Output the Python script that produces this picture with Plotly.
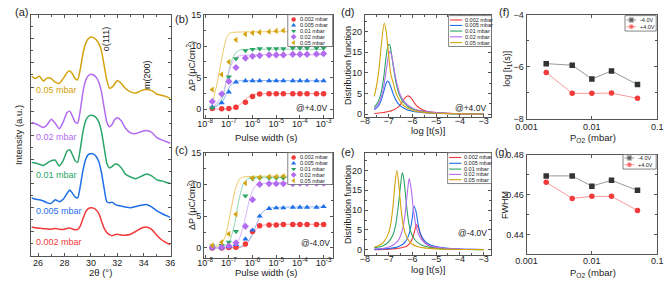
import plotly.graph_objects as go

W, H = 669, 287

# ---------------- data ----------------
pressures = ["0.002 mbar", "0.005 mbar", "0.01 mbar", "0.02 mbar", "0.05 mbar"]
colors = ["#f23a3a", "#1f6fe8", "#2aa566", "#b36cf0", "#d4a20c"]
fit_colors = ["#f79a9a", "#8fb5f2", "#8fd6b0", "#d9b3f7", "#ecc866"]
symbols = ["circle", "triangle-up", "triangle-down", "diamond", "triangle-left"]

# (a) XRD
two_theta = [25.5, 25.8, 26.1, 26.4, 26.7, 27.0, 27.3, 27.6, 27.9, 28.2, 28.4, 28.6, 28.8, 29.0,
             29.2, 29.4, 29.6, 29.8, 30.0, 30.2, 30.4, 30.6, 30.8, 31.0, 31.2, 31.4, 31.6, 31.8,
             32.0, 32.3, 32.6, 33.0, 33.4, 33.8, 34.2, 34.6, 35.0, 35.4, 35.8, 36.0]
xrd_002 = [12.0, 11.7, 11.5, 11.3, 11.2, 11.1, 11.4, 11.1, 11.0, 11.4, 11.6, 11.2, 10.9, 11.0,
           12.5, 15.5, 18.3, 19.6, 20.0, 19.8, 19.0, 17.5, 14.5, 11.5, 9.7, 8.8, 8.4, 8.8,
           9.0, 8.7, 8.6, 9.0, 10.2, 11.5, 12.0, 11.0, 8.5, 6.5, 5.2, 4.7]
xrd_005 = [24.0, 23.5, 23.3, 22.8, 22.0, 21.8, 23.3, 22.5, 23.5, 26.0, 27.3, 26.0, 24.5, 24.0,
           29.0, 35.5, 40.0, 42.0, 42.4, 42.2, 41.2, 39.0, 34.5, 28.0, 22.5, 22.0, 22.3, 21.5,
           21.0, 20.7, 20.3, 20.0, 20.5, 21.0, 21.3, 20.3, 18.7, 17.5, 16.5, 16.0]
xrd_01 = [38.7, 38.5, 38.0, 37.5, 38.5, 39.5, 39.7, 37.3, 39.5, 43.5, 44.0, 42.0, 39.5, 38.8,
          44.5, 51.5, 56.0, 57.8, 58.3, 58.1, 57.3, 55.5, 51.5, 45.0, 38.5, 36.5, 37.0, 38.0,
          38.0, 36.5, 34.0, 32.7, 32.0, 33.0, 34.0, 33.2, 31.5, 31.0, 30.3, 30.0]
xrd_02 = [55.3, 54.8, 54.0, 53.2, 54.5, 56.7, 55.0, 52.7, 55.5, 59.5, 60.0, 58.0, 55.5, 55.0,
          60.5, 68.0, 72.7, 74.7, 75.3, 75.0, 74.0, 72.0, 68.0, 61.5, 55.5, 53.5, 54.5, 56.5,
          57.3, 56.0, 53.0, 51.0, 50.7, 51.5, 52.0, 51.2, 49.0, 48.0, 47.2, 46.7]
xrd_05 = [74.4, 73.5, 74.5, 72.5, 73.8, 73.5, 72.0, 71.5, 73.5, 76.0, 76.7, 75.5, 73.5, 73.0,
          77.5, 84.0, 88.0, 90.0, 90.7, 90.5, 89.6, 88.0, 85.0, 79.0, 73.0, 69.5, 70.0, 71.3,
          72.7, 71.5, 69.5, 68.0, 67.5, 68.5, 69.0, 68.5, 67.0, 66.5, 65.8, 65.3]
xrd = [xrd_002, xrd_005, xrd_01, xrd_02, xrd_05]

# (b),(c) switching vs pulse width
pulse = [2e-8, 5e-8, 1e-7, 2e-7, 5e-7, 1e-6, 2e-6, 5e-6, 1e-5, 2e-5, 5e-5, 1e-4, 2e-4, 5e-4, 1e-3]
dp_pos = [
    [0.1, 0.05, 0.1, 0.3, 1.1, 2.0, 2.4, 2.45, 2.45, 2.45, 2.45, 2.45, 2.45, 2.45, 2.45],
    [0.3, 1.0, 2.7, 4.3, 4.5, 4.5, 4.5, 4.5, 4.5, 4.5, 4.5, 4.5, 4.5, 4.5, 4.5],
    [0.2, 2.3, 5.1, 8.0, 9.3, 9.5, 9.6, 9.6, 9.6, 9.6, 9.7, 9.7, 9.7, 9.7, 9.7],
    [1.2, 2.4, 4.4, 6.6, 8.1, 8.4, 8.5, 8.6, 8.6, 8.6, 8.7, 8.7, 8.7, 8.75, 8.8],
    [3.1, 5.5, 7.5, 11.0, 11.9, 12.1, 12.2, 12.3, 12.4, 12.5, 12.5, 12.6, 12.7, 12.7, 12.8],
]
dp_neg = [
    [0.0, 0.0, 0.05, 0.1, 0.6, 2.6, 3.5, 3.6, 3.6, 3.7, 3.7, 3.7, 3.7, 3.7, 3.7],
    [0.0, 0.0, 0.2, 0.5, 1.4, 2.8, 5.0, 6.2, 6.3, 6.3, 6.4, 6.4, 6.4, 6.4, 6.5],
    [0.3, 0.4, 0.9, 2.6, 8.2, 10.9, 11.0, 11.0, 11.0, 11.0, 11.0, 11.1, 11.1, 11.1, 11.1],
    [0.1, 0.1, 0.3, 0.8, 3.4, 7.6, 10.0, 10.1, 10.1, 10.1, 10.1, 10.2, 10.2, 10.2, 10.2],
    [0.4, 0.9, 2.2, 5.3, 10.2, 11.0, 11.1, 11.2, 11.2, 11.3, 11.3, 11.3, 11.3, 11.3, 11.3],
]
# fitted curves (log10 pulse width, dP)
fit_pos_logx = [
    [-7.7, -7.0, -6.7, -6.5, -6.3, -6.1, -5.9, -5.5, -3.0],
    [-7.7, -7.3, -7.1, -6.9, -6.7, -6.5, -3.0],
    [-7.7, -7.3, -7.1, -6.9, -6.7, -6.5, -6.0, -3.0],
    [-7.7, -7.3, -7.1, -6.9, -6.7, -6.5, -3.0],
    [-7.7, -7.5, -7.3, -7.1, -6.95, -6.8, -3.0],
]
fit_pos_y = [
    [0.0, 0.05, 0.3, 0.8, 1.5, 2.1, 2.35, 2.45, 2.45],
    [0.1, 1.0, 2.5, 3.9, 4.4, 4.5, 4.5],
    [0.1, 1.5, 4.5, 7.5, 9.0, 9.4, 9.5, 9.5],
    [0.2, 2.0, 4.5, 7.0, 8.2, 8.5, 8.6],
    [1.0, 4.0, 8.0, 11.3, 12.1, 12.2, 12.3],
]
fit_neg_logx = [
    [-7.7, -6.6, -6.3, -6.1, -5.9, -5.7, -5.4, -3.0],
    [-7.7, -6.5, -6.2, -6.0, -5.8, -5.6, -5.4, -5.1, -3.0],
    [-7.7, -7.2, -7.0, -6.8, -6.6, -6.4, -6.2, -6.0, -3.0],
    [-7.7, -7.0, -6.7, -6.5, -6.3, -6.1, -5.9, -5.7, -3.0],
    [-7.7, -7.3, -7.1, -6.9, -6.7, -6.5, -6.3, -3.0],
]
fit_neg_y = [
    [0.0, 0.05, 0.4, 1.5, 2.7, 3.4, 3.65, 3.7],
    [0.0, 0.2, 0.9, 2.2, 4.0, 5.5, 6.1, 6.35, 6.45],
    [0.0, 0.3, 0.9, 3.0, 7.0, 10.0, 10.9, 11.0, 11.1],
    [0.0, 0.1, 0.6, 2.0, 4.8, 8.0, 9.7, 10.1, 10.2],
    [0.1, 0.7, 2.5, 6.2, 9.6, 11.0, 11.2, 11.3],
]

# (d),(e) distribution functions
dist_pos_x = [
    [-7.6, -7.4, -7.2, -7.0, -6.8, -6.6, -6.5, -6.4, -6.3, -6.2, -6.1, -6.0, -5.9, -5.8, -5.6, -5.4, -5.0, -4.5, -4.0, -3.5, -3.0],
    [-7.6, -7.5, -7.4, -7.3, -7.2, -7.1, -7.05, -7.0, -6.9, -6.8, -6.7, -6.6, -6.5, -6.4, -6.2, -6.0, -5.8, -5.5, -5.0, -4.5, -4.0, -3.0],
    [-7.6, -7.5, -7.4, -7.3, -7.2, -7.1, -7.0, -6.95, -6.9, -6.8, -6.7, -6.6, -6.5, -6.4, -6.2, -6.0, -5.8, -5.5, -5.0, -4.5, -4.0, -3.0],
    [-7.6, -7.5, -7.4, -7.3, -7.2, -7.1, -7.0, -6.95, -6.9, -6.8, -6.7, -6.6, -6.5, -6.4, -6.2, -6.0, -5.8, -5.5, -5.0, -4.5, -4.0, -3.0],
    [-7.6, -7.5, -7.4, -7.3, -7.18, -7.1, -7.0, -6.9, -6.8, -6.7, -6.6, -6.5, -6.4, -6.2, -6.0, -5.8, -5.5, -5.0, -4.5, -4.0, -3.0],
]
dist_pos_y = [
    [0.15, 0.25, 0.4, 0.6, 1.0, 1.7, 2.3, 3.2, 4.0, 4.4, 4.2, 3.5, 2.6, 1.9, 1.1, 0.7, 0.35, 0.18, 0.1, 0.06, 0.04],
    [1.0, 1.5, 2.2, 3.5, 5.5, 7.5, 8.0, 7.8, 6.5, 4.8, 3.5, 2.6, 2.0, 1.6, 1.0, 0.7, 0.5, 0.35, 0.2, 0.1, 0.05, 0.02],
    [1.7, 2.4, 3.5, 5.5, 9.0, 14.0, 16.9, 16.8, 15.5, 11.5, 8.0, 5.6, 4.1, 3.1, 1.9, 1.3, 0.9, 0.6, 0.3, 0.15, 0.08, 0.02],
    [1.3, 1.8, 2.7, 4.2, 6.8, 10.5, 14.2, 15.2, 14.8, 12.0, 8.8, 6.3, 4.6, 3.5, 2.2, 1.5, 1.0, 0.7, 0.35, 0.2, 0.1, 0.03],
    [4.3, 7.0, 11.0, 17.0, 22.0, 20.0, 14.5, 9.5, 7.5, 5.3, 4.0, 3.0, 2.3, 1.4, 0.95, 0.65, 0.4, 0.2, 0.1, 0.05, 0.0],
]
dist_neg_x = [
    [-7.6, -7.2, -6.8, -6.5, -6.3, -6.2, -6.1, -6.0, -5.9, -5.83, -5.75, -5.65, -5.55, -5.4, -5.2, -4.9, -4.5, -4.0, -3.9],
    [-7.6, -7.2, -6.8, -6.6, -6.4, -6.3, -6.2, -6.1, -6.0, -5.93, -5.85, -5.75, -5.65, -5.5, -5.3, -5.0, -4.6, -4.0, -3.5, -3.0],
    [-7.6, -7.4, -7.2, -7.0, -6.8, -6.7, -6.6, -6.5, -6.42, -6.35, -6.25, -6.15, -6.05, -5.9, -5.7, -5.5, -5.2, -4.8, -4.3, -3.8, -3.0],
    [-7.6, -7.4, -7.2, -7.0, -6.8, -6.6, -6.5, -6.4, -6.3, -6.2, -6.13, -6.05, -5.95, -5.85, -5.75, -5.6, -5.4, -5.1, -4.7, -4.2, -3.5, -3.0],
    [-7.6, -7.4, -7.2, -7.0, -6.9, -6.8, -6.75, -6.65, -6.55, -6.5, -6.4, -6.3, -6.2, -6.0, -5.8, -5.5, -5.0, -4.5, -4.0, -3.5, -3.0],
]
dist_neg_y = [
    [0.05, 0.12, 0.25, 0.45, 0.75, 1.1, 1.7, 2.8, 4.8, 6.4, 5.6, 3.7, 2.4, 1.4, 0.8, 0.45, 0.25, 0.15, 0.14],
    [0.1, 0.25, 0.5, 0.8, 1.4, 2.0, 3.0, 4.8, 8.0, 11.0, 9.8, 6.3, 4.0, 2.4, 1.4, 0.8, 0.45, 0.22, 0.14, 0.1],
    [0.5, 0.7, 1.1, 2.0, 4.0, 6.3, 10.5, 16.0, 19.5, 17.5, 11.5, 6.8, 4.3, 2.6, 1.5, 0.95, 0.55, 0.3, 0.16, 0.1, 0.05],
    [0.2, 0.3, 0.4, 0.7, 1.2, 2.3, 3.5, 5.5, 9.2, 15.0, 18.0, 15.5, 10.0, 6.2, 4.1, 2.5, 1.4, 0.8, 0.45, 0.25, 0.12, 0.08],
    [0.7, 1.1, 2.0, 4.2, 6.8, 11.8, 15.3, 20.0, 15.3, 11.8, 6.8, 4.2, 2.8, 1.4, 0.85, 0.5, 0.25, 0.15, 0.1, 0.07, 0.05],
]

# (f),(g)
p_o2 = [0.002, 0.005, 0.01, 0.02, 0.05]
logt1_neg = [-5.88, -5.94, -6.47, -6.16, -6.68]
logt1_pos = [-6.22, -7.02, -7.02, -7.01, -7.21]
fwhm_neg = [0.4694, 0.4694, 0.4643, 0.4672, 0.4622]
fwhm_pos = [0.4662, 0.4582, 0.4592, 0.4592, 0.4522]
volt_labels = ["-4.0V", "+4.0V"]

# ---------------- figure ----------------
fig = go.Figure()
FONT = "Liberation Sans, Arial, sans-serif"
AX = "#555555"


def dx(l, r):
    return [l / W, r / W]


def dy(t, b):
    return [1 - b / H, 1 - t / H]


def axis_style(**kw):
    d = dict(showline=True, linecolor=AX, linewidth=1, mirror="allticks", ticks="inside",
             ticklen=3, tickcolor=AX, showgrid=False, zeroline=False,
             tickfont=dict(size=9, color="#222", family=FONT))
    d.update(kw)
    return d


def minor(dt):
    return dict(ticks="inside", ticklen=2, tickcolor=AX, dtick=dt)


# (a)
for i in range(5):
    fig.add_trace(go.Scatter(x=two_theta, y=xrd[i], mode="lines",
                             line=dict(color=colors[i], width=1.5, shape="spline", smoothing=0.5),
                             xaxis="x", yaxis="y", showlegend=False))
# (b),(c)
for i in range(5):
    fig.add_trace(go.Scatter(x=[10 ** v for v in fit_pos_logx[i]], y=fit_pos_y[i], mode="lines",
                             line=dict(color=fit_colors[i], width=1, shape="spline", smoothing=0.7),
                             xaxis="x2", yaxis="y2", showlegend=False))
    fig.add_trace(go.Scatter(x=[10 ** v for v in fit_neg_logx[i]], y=fit_neg_y[i], mode="lines",
                             line=dict(color=fit_colors[i], width=1, shape="spline", smoothing=0.7),
                             xaxis="x3", yaxis="y3", showlegend=False))
for i in range(5):
    fig.add_trace(go.Scatter(x=pulse, y=dp_pos[i], mode="markers",
                             marker=dict(color=colors[i], symbol=symbols[i], size=5.5),
                             xaxis="x2", yaxis="y2", showlegend=False))
    fig.add_trace(go.Scatter(x=pulse, y=dp_neg[i], mode="markers",
                             marker=dict(color=colors[i], symbol=symbols[i], size=5.5),
                             xaxis="x3", yaxis="y3", showlegend=False))
# (d),(e)
for i in range(5):
    fig.add_trace(go.Scatter(x=dist_pos_x[i], y=dist_pos_y[i], mode="lines",
                             line=dict(color=colors[i], width=1.1, shape="spline", smoothing=0.8),
                             xaxis="x4", yaxis="y4", showlegend=False))
    fig.add_trace(go.Scatter(x=dist_neg_x[i], y=dist_neg_y[i], mode="lines",
                             line=dict(color=colors[i], width=1.1, shape="spline", smoothing=0.8),
                             xaxis="x5", yaxis="y5", showlegend=False))
# (f),(g)
fg_colors = ["#333333", "#f23a3a"]
fg_line = ["#999999", "#f79a9a"]
fg_sym = ["square", "circle"]
for ys, ax in [((logt1_neg, logt1_pos), ("x6", "y6")), ((fwhm_neg, fwhm_pos), ("x7", "y7"))]:
    for k in range(2):
        fig.add_trace(go.Scatter(x=p_o2, y=ys[k], mode="lines+markers",
                                 line=dict(color=fg_line[k], width=1),
                                 marker=dict(color=fg_colors[k], symbol=fg_sym[k], size=5.5),
                                 xaxis=ax[0], yaxis=ax[1], showlegend=False))

# ---------------- legends (overlay in pixel coordinates) ----------------
def legend_box(x0, y0, x1, y1):
    fig.add_trace(go.Scatter(x=[x0, x1, x1, x0, x0], y=[y0, y0, y1, y1, y0], mode="lines",
                             fill="toself", fillcolor="white", line=dict(color="#666", width=0.8),
                             xaxis="x8", yaxis="y8", showlegend=False, hoverinfo="skip"))


annotations = []


def leg_text(x, y, t, color="#222"):
    annotations.append(dict(x=x / W, y=1 - y / H, xref="paper", yref="paper", text=t, showarrow=False,
                            xanchor="left", yanchor="middle", font=dict(size=5.5, color=color, family=FONT)))


def marker_legend(x0, y0, x1, y1, rows):
    legend_box(x0, y0, x1, y1)
    for i, ry in enumerate(rows):
        fig.add_trace(go.Scatter(x=[x0 + 6], y=[ry], mode="markers",
                                 marker=dict(color=colors[i], symbol=symbols[i], size=4.5),
                                 xaxis="x8", yaxis="y8", showlegend=False))
        leg_text(x0 + 10, ry, pressures[i])


def line_legend(x0, y0, x1, y1, rows):
    legend_box(x0, y0, x1, y1)
    for i, ry in enumerate(rows):
        fig.add_trace(go.Scatter(x=[x0 + 1.5, x0 + 14], y=[ry, ry], mode="lines",
                                 line=dict(color=colors[i], width=1.1),
                                 xaxis="x8", yaxis="y8", showlegend=False))
        leg_text(x0 + 15, ry, pressures[i])


def volt_legend(x0, y0, x1, y1, rows):
    legend_box(x0, y0, x1, y1)
    for k, ry in enumerate(rows):
        fig.add_trace(go.Scatter(x=[x0 + 1.5, x0 + 6.5, x0 + 11.5], y=[ry, ry, ry], mode="lines+markers",
                                 line=dict(color=fg_line[k], width=1),
                                 marker=dict(color=fg_colors[k], symbol=fg_sym[k], size=[0, 4.5, 0]),
                                 xaxis="x8", yaxis="y8", showlegend=False))
        leg_text(x0 + 13, ry, volt_labels[k])


marker_legend(284, 10, 330, 43, [15, 21, 27, 33, 39])
marker_legend(284, 153, 330, 186, [158, 164, 170, 176, 182])
line_legend(449, 11, 493, 43, [15.5, 21.2, 27, 33, 39])
line_legend(448, 153, 493, 185, [158, 164, 170, 175.5, 181])
volt_legend(630, 11, 662, 27, [15.5, 22.5])
volt_legend(628, 155, 662, 170, [158.5, 165.5])

# ---------------- text ----------------
def txt(x, y, t, size=9, color="#222", angle=0, xa="center", ya="middle"):
    annotations.append(dict(x=x / W, y=1 - y / H, xref="paper", yref="paper", text=t, showarrow=False,
                            textangle=angle, xanchor=xa, yanchor=ya,
                            font=dict(size=size, color=color, family=FONT)))


# panel labels
txt(2, 7, "(a)", size=11, xa="left")
txt(166, 15, "(b)", size=11, xa="left")
txt(166, 150, "(c)", size=11, xa="left")
txt(337, 7, "(d)", size=11, xa="left")
txt(337, 152, "(e)", size=11, xa="left")
txt(499, 7, "(f)", size=11, xa="left")
txt(495, 152, "(g)", size=10.5, xa="left")

# (a) labels
lab_y = [246, 213, 176, 137, 88]
for i in range(5):
    txt(24, lab_y[i], pressures[i], size=9, color=colors[i], xa="left")
txt(97, 35, "o(111)", size=9, angle=-90)
txt(140, 72, "m(200)", size=9, angle=-90)
txt(7, 135, "Intensity (a.u.)", size=9.5, angle=-90)
txt(92, 277, "2θ (°)", size=9.5)

# (b)(c)
txt(185, 63, "ΔP (μC/cm<sup>2</sup>)", size=9, angle=-90)
txt(185, 207, "ΔP (μC/cm<sup>2</sup>)", size=9, angle=-90)
txt(262, 137, "Pulse width (s)", size=9.5)
txt(262, 277, "Pulse width (s)", size=9.5)
txt(308, 107, "@+4.0V", size=8.5)
txt(312, 247, "@-4.0V", size=8.5)

# (d)(e)
txt(346, 63, "Distribution function", size=9, angle=-90)
txt(346, 207, "Distribution function", size=9, angle=-90)
txt(428, 130, "log [t(s)]", size=9.5)
txt(428, 274, "log [t(s)]", size=9.5)
txt(471, 107, "@+4.0V", size=8.5)
txt(474, 236, "@-4.0V", size=8.5)

# (f)(g)
txt(510, 66, "log [t<sub>1</sub>(s)]", size=9, angle=-90)
txt(507, 207, "FWHM", size=9, angle=-90)
txt(597, 138, "P<sub>O2</sub> (mbar)", size=9.5)
txt(597, 278, "P<sub>O2</sub> (mbar)", size=9.5)

# ---------------- axes ----------------
logb = [-8.05, -2.62]
pw_ticks = [1e-8, 1e-7, 1e-6, 1e-5, 1e-4, 1e-3]
pw_text = ["10<sup>-8</sup>", "10<sup>-7</sup>", "10<sup>-6</sup>", "10<sup>-5</sup>", "10<sup>-4</sup>", "10<sup>-3</sup>"]
layout = dict(
    width=W, height=H, margin=dict(l=0, r=0, t=0, b=0),
    paper_bgcolor="white", plot_bgcolor="rgba(0,0,0,0)", showlegend=False,
    xaxis=axis_style(domain=dx(21, 164), range=[25.5, 36.05], tickvals=[26, 28, 30, 32, 34, 36],
                     minor=minor(1), anchor="y", ticklabelstandoff=-2),
    yaxis=axis_style(domain=dy(10, 260), range=[0, 100], dtick=10, showticklabels=False, anchor="x",
                     minor=minor(5)),
    xaxis2=axis_style(domain=dx(198, 330), type="log", range=logb, tickvals=pw_ticks, ticktext=pw_text,
                      anchor="y2", ticklabelstandoff=-3),
    yaxis2=axis_style(domain=dy(10, 117), range=[-1.4, 15], tickvals=[0, 5, 10, 15], anchor="x2",
                      minor=minor(2.5)),
    xaxis3=axis_style(domain=dx(198, 330), type="log", range=logb, tickvals=pw_ticks, ticktext=pw_text,
                      anchor="y3", ticklabelstandoff=-4),
    yaxis3=axis_style(domain=dy(153, 262), range=[-1.57, 15], tickvals=[0, 5, 10, 15], anchor="x3",
                      minor=minor(2.5)),
    xaxis4=axis_style(domain=dx(363, 493), range=[-8.0, -2.67], dtick=1, anchor="y4",
                      minor=minor(0.5), ticklabelstandoff=-5),
    yaxis4=axis_style(domain=dy(10, 116), range=[-0.7, 24.1], dtick=5, anchor="x4", minor=minor(2.5)),
    xaxis5=axis_style(domain=dx(363, 493), range=[-8.0, -2.67], dtick=1, anchor="y5",
                      minor=minor(0.5), ticklabelstandoff=-5),
    yaxis5=axis_style(domain=dy(153, 259), range=[-1.3, 24.5], dtick=5, anchor="x5", minor=minor(2.5)),
    xaxis6=axis_style(domain=dx(529, 663), type="log", range=[-3, -1], tickvals=[0.001, 0.01, 0.1],
                      ticktext=["0.001", "0.01", "0.1"], anchor="y6", ticklabelstandoff=-1),
    yaxis6=axis_style(domain=dy(10, 118), range=[-8, -4], tickvals=[-8, -6, -4], anchor="x6", minor=minor(1)),
    xaxis7=axis_style(domain=dx(529, 663), type="log", range=[-3, -1], tickvals=[0.001, 0.01, 0.1],
                      ticktext=["0.001", "0.01", "0.1"], anchor="y7", ticklabelstandoff=-2),
    yaxis7=axis_style(domain=dy(155, 258), range=[0.4305, 0.48], tickvals=[0.44, 0.46, 0.48], anchor="x7",
                      minor=minor(0.01)),
    xaxis8=dict(domain=[0, 1], range=[0, W], visible=False, anchor="y8", fixedrange=True),
    yaxis8=dict(domain=[0, 1], range=[H, 0], visible=False, anchor="x8", fixedrange=True),
    annotations=annotations,
)
fig.update_layout(**layout)
fig.write_html("out.html")
